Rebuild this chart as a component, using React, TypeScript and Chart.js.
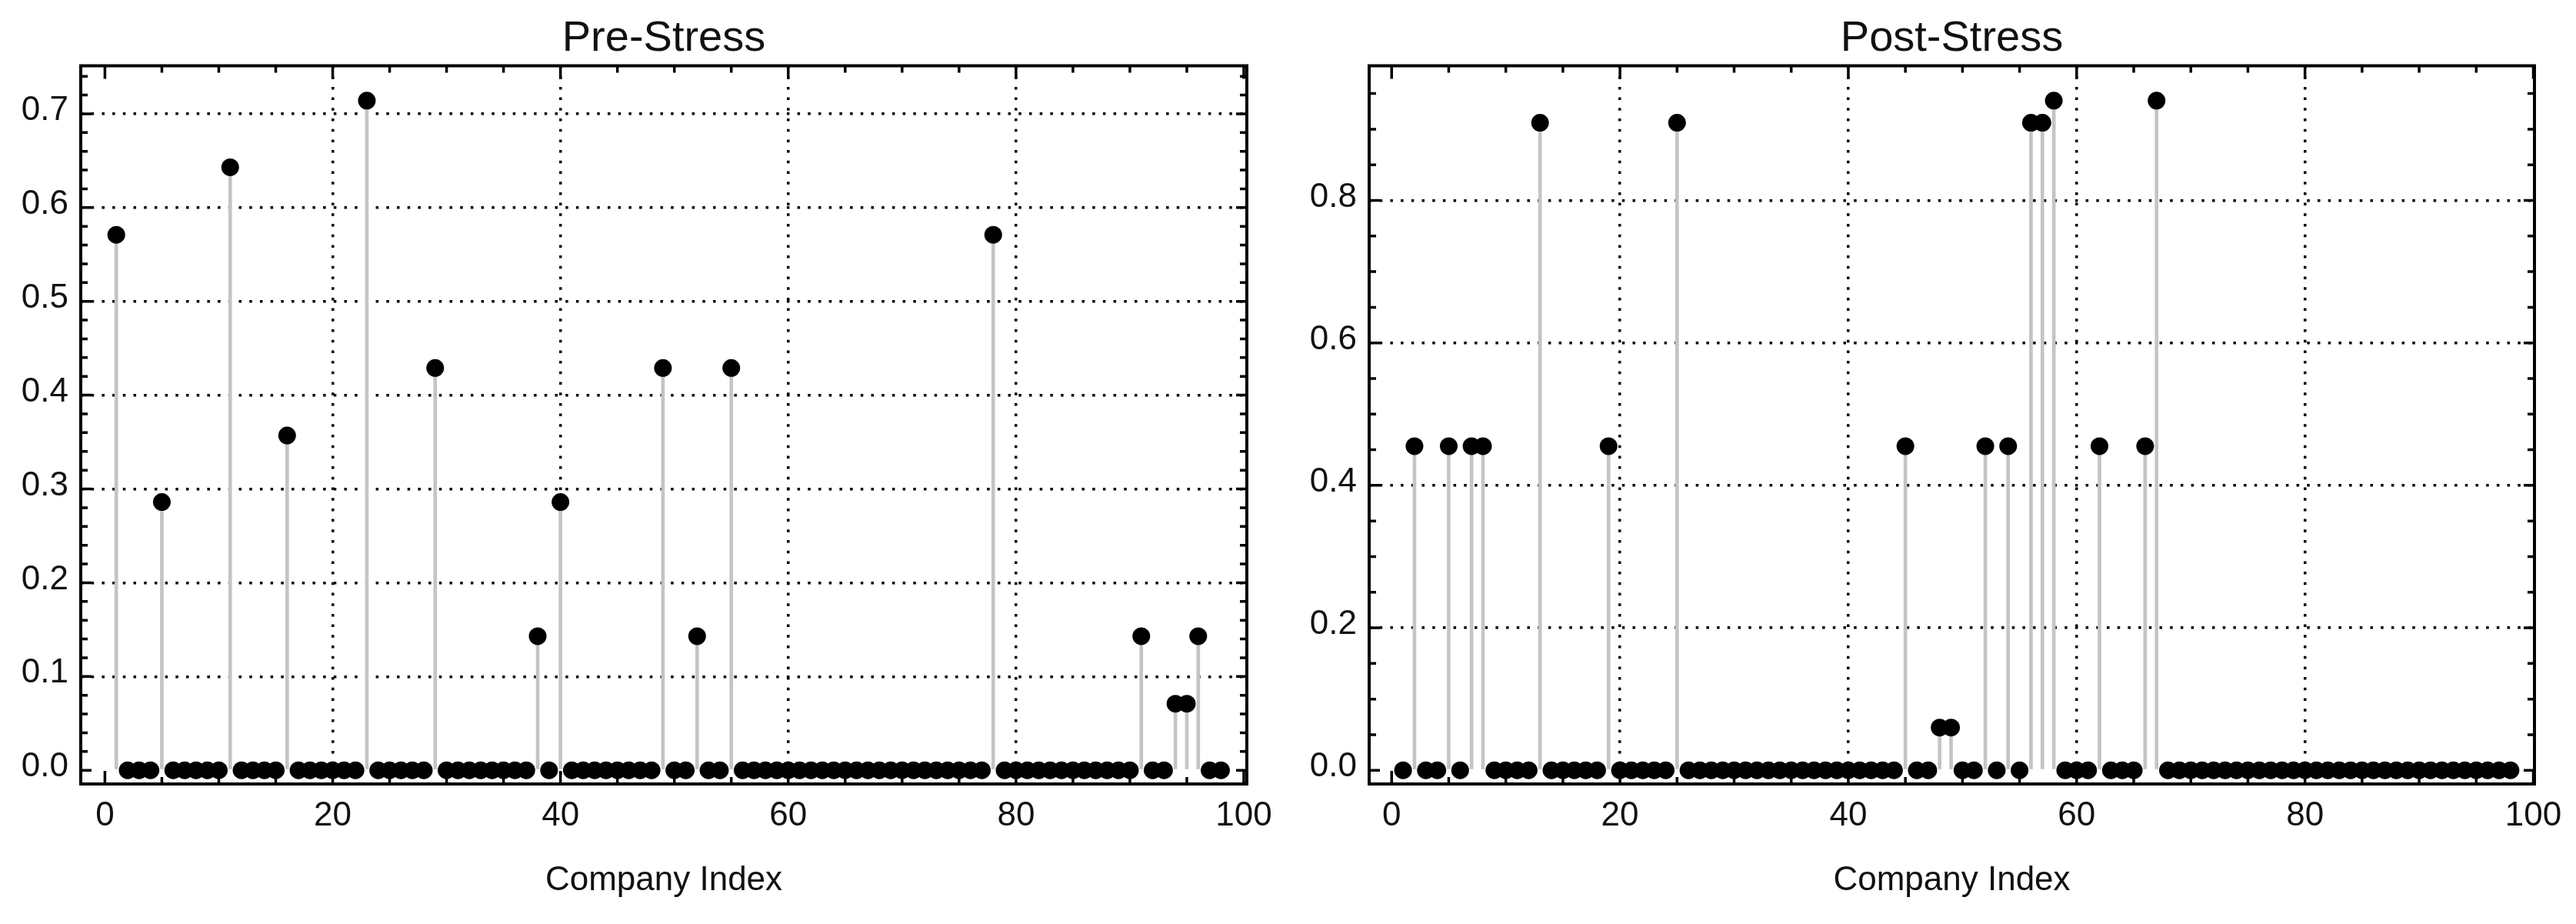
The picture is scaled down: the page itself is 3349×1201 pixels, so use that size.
import React, { useEffect, useRef } from "react";
import { Chart, registerables } from "chart.js";

Chart.register(...registerables);

// ---- data ----
const COMPANY_INDEX: number[] = Array.from({ length: 98 }, (_, i) => i + 1);

const PRE_STRESS: number[] = [
  0.571, 0, 0, 0, 0.286, 0, 0, 0, 0, 0,
  0.643, 0, 0, 0, 0, 0.357, 0, 0, 0, 0,
  0, 0, 0.714, 0, 0, 0, 0, 0, 0.429, 0,
  0, 0, 0, 0, 0, 0, 0, 0.143, 0, 0.286,
  0, 0, 0, 0, 0, 0, 0, 0, 0.429, 0,
  0, 0.143, 0, 0, 0.429, 0, 0, 0, 0, 0,
  0, 0, 0, 0, 0, 0, 0, 0, 0, 0,
  0, 0, 0, 0, 0, 0, 0, 0.571, 0, 0,
  0, 0, 0, 0, 0, 0, 0, 0, 0, 0,
  0.143, 0, 0, 0.071, 0.071, 0.143, 0, 0,
];

const POST_STRESS: number[] = [
  0, 0.455, 0, 0, 0.455, 0, 0.455, 0.455, 0, 0,
  0, 0, 0.909, 0, 0, 0, 0, 0, 0.455, 0,
  0, 0, 0, 0, 0.909, 0, 0, 0, 0, 0,
  0, 0, 0, 0, 0, 0, 0, 0, 0, 0,
  0, 0, 0, 0, 0.455, 0, 0, 0.06, 0.06, 0,
  0, 0.455, 0, 0.455, 0, 0.909, 0.909, 0.94, 0, 0,
  0, 0.455, 0, 0, 0, 0.455, 0.94, 0, 0, 0,
  0, 0, 0, 0, 0, 0, 0, 0, 0, 0,
  0, 0, 0, 0, 0, 0, 0, 0, 0, 0,
  0, 0, 0, 0, 0, 0, 0, 0,
];

const X_TICKS: number[] = [0, 20, 40, 60, 80, 100];
const PRE_Y_TICKS: number[] = [0, 0.1, 0.2, 0.3, 0.4, 0.5, 0.6, 0.7];
const POST_Y_TICKS: number[] = [0, 0.2, 0.4, 0.6, 0.8];

const TITLES = ["Pre-Stress", "Post-Stress"];
const X_LABEL = "Company Index";

const FONT = "'Liberation Sans', Arial, Helvetica, sans-serif";
const TEXT = "#111111";

// ---- plugin: frame + inward ticks on all four sides ----
const frameTicksPlugin = {
  id: "frameTicks",
  beforeDatasetsDraw(chart: any, _args: any, opts: any) {
    const { ctx, chartArea } = chart;
    const { left, right, top, bottom } = chartArea;
    const xs = chart.scales.x;
    const ys = chart.scales.y;
    ctx.save();
    ctx.strokeStyle = "#000";
    ctx.lineWidth = 3.5;
    ctx.lineCap = "butt";
    ctx.beginPath();
    const xi0 = Math.ceil(xs.min / opts.xMinor - 1e-9);
    const xi1 = Math.floor(xs.max / opts.xMinor + 1e-9);
    for (let i = xi0; i <= xi1; i++) {
      const px = xs.getPixelForValue(i * opts.xMinor);
      const len = i % opts.xEvery === 0 ? 17 : 9;
      ctx.moveTo(px, bottom);
      ctx.lineTo(px, bottom - len);
      ctx.moveTo(px, top);
      ctx.lineTo(px, top + len);
    }
    const yi0 = Math.ceil(ys.min / opts.yMinor - 1e-9);
    const yi1 = Math.floor(ys.max / opts.yMinor + 1e-9);
    for (let i = yi0; i <= yi1; i++) {
      const py = ys.getPixelForValue(i * opts.yMinor);
      const len = i % opts.yEvery === 0 ? 14 : 9;
      ctx.moveTo(left, py);
      ctx.lineTo(left + len, py);
      ctx.moveTo(right, py);
      ctx.lineTo(right - len, py);
    }
    ctx.stroke();
    ctx.restore();
  },
  afterDatasetsDraw(chart: any) {
    const { ctx, chartArea } = chart;
    const { left, right, top, bottom } = chartArea;
    ctx.save();
    ctx.strokeStyle = "#000";
    ctx.lineWidth = 4;
    ctx.strokeRect(left, top, right - left, bottom - top);
    ctx.restore();
  },
};

type PanelProps = {
  title: string;
  values: number[];
  yTicks: number[];
  yMin: number;
  yMax: number;
  yMinor: number;
  yEvery: number;
  xMin: number;
  xMax: number;
  left: number;
  width: number;
  yAxisWidth: number;
  rightPad: number;
};

const HEIGHT = 1201;

function StressPanel(p: PanelProps) {
  const ref = useRef<HTMLCanvasElement | null>(null);

  useEffect(() => {
    if (!ref.current) return;
    const points = COMPANY_INDEX.map((x, i) => ({ x, y: p.values[i] }));
    const chart = new Chart(ref.current, {
      type: "scatter",
      data: {
        datasets: [
          {
            type: "scatter",
            data: points,
            pointRadius: 11.5,
            pointHoverRadius: 11.5,
            pointBackgroundColor: "#000000",
            pointBorderWidth: 0,
            order: 0,
          } as any,
          {
            type: "bar",
            data: points,
            backgroundColor: "#c4c4c4",
            barThickness: 4,
            borderWidth: 0,
            order: 1,
          } as any,
        ],
      },
      options: {
        animation: false,
        responsive: false,
        devicePixelRatio: 1,
        events: [],
        layout: { padding: { left: 0, right: p.rightPad, top: 0, bottom: 0 } },
        plugins: {
          legend: { display: false },
          tooltip: { enabled: false },
          title: {
            display: true,
            fullSize: false,
            text: p.title,
            color: TEXT,
            font: { family: FONT, size: 56, weight: "normal", lineHeight: 1 },
            padding: { top: 23, bottom: 6.5 },
          },
          frameTicks: {
            xMinor: 5,
            xEvery: 4,
            yMinor: p.yMinor,
            yEvery: p.yEvery,
          },
        } as any,
        scales: {
          x: {
            type: "linear",
            min: p.xMin,
            max: p.xMax,
            offset: false,
            afterBuildTicks: (s: any) => {
              s.ticks = X_TICKS.map((v) => ({ value: v }));
            },
            afterFit: (s: any) => {
              s.height = 182;
            },
            ticks: {
              autoSkip: false,
              maxRotation: 0,
              minRotation: 0,
              padding: 15,
              color: TEXT,
              font: { family: FONT, size: 44, lineHeight: 1.2 },
              callback: (v: any) => String(v),
            },
            grid: {
              offset: false,
              drawTicks: false,
              lineWidth: 3.5,
              color: (c: any) =>
                c.tick && c.tick.value > 0 && c.tick.value < 100 ? "#000000" : "rgba(0,0,0,0)",
            },
            border: { display: false, dash: [3.5, 10.2] },
            title: {
              display: true,
              text: X_LABEL,
              color: TEXT,
              font: { family: FONT, size: 44, lineHeight: 1.2 },
              padding: { top: 0, bottom: 30 },
            },
          },
          y: {
            type: "linear",
            min: p.yMin,
            max: p.yMax,
            offset: false,
            afterBuildTicks: (s: any) => {
              s.ticks = p.yTicks.map((v) => ({ value: v }));
            },
            afterFit: (s: any) => {
              s.width = p.yAxisWidth;
            },
            ticks: {
              autoSkip: false,
              padding: 16,
              labelOffset: -4,
              color: TEXT,
              font: { family: FONT, size: 44, lineHeight: 1.2 },
              callback: (v: any) => Number(v).toFixed(1),
            },
            grid: {
              offset: false,
              drawTicks: false,
              lineWidth: 3.5,
              color: (c: any) =>
                c.tick && c.tick.value > 0.0001 ? "#000000" : "rgba(0,0,0,0)",
            },
            border: { display: false, dash: [3.5, 10.2] },
          },
        } as any,
      },
      plugins: [frameTicksPlugin as any],
    });
    return () => chart.destroy();
  }, []);

  return (
    <canvas
      ref={ref}
      width={p.width}
      height={HEIGHT}
      style={{ position: "absolute", left: p.left, top: 0, width: p.width, height: HEIGHT, display: "block" }}
    />
  );
}

export default function App() {
  return (
    <div
      style={{
        position: "absolute",
        left: 0,
        top: 0,
        width: 3349,
        height: HEIGHT,
        background: "#ffffff",
        overflow: "hidden",
      }}
    >
      <StressPanel
        title={TITLES[0]}
        values={PRE_STRESS}
        yTicks={PRE_Y_TICKS}
        yMin={-0.0146}
        yMax={0.7512}
        yMinor={0.02}
        yEvery={5}
        xMin={-2.12}
        xMax={100.27}
        left={0}
        width={1675}
        yAxisWidth={105}
        rightPad={54}
      />
      <StressPanel
        title={TITLES[1]}
        values={POST_STRESS}
        yTicks={POST_Y_TICKS}
        yMin={-0.0192}
        yMax={0.989}
        yMinor={0.05}
        yEvery={4}
        xMin={-1.97}
        xMax={100.1}
        left={1675}
        width={1674}
        yAxisWidth={105}
        rightPad={54}
      />
    </div>
  );
}
